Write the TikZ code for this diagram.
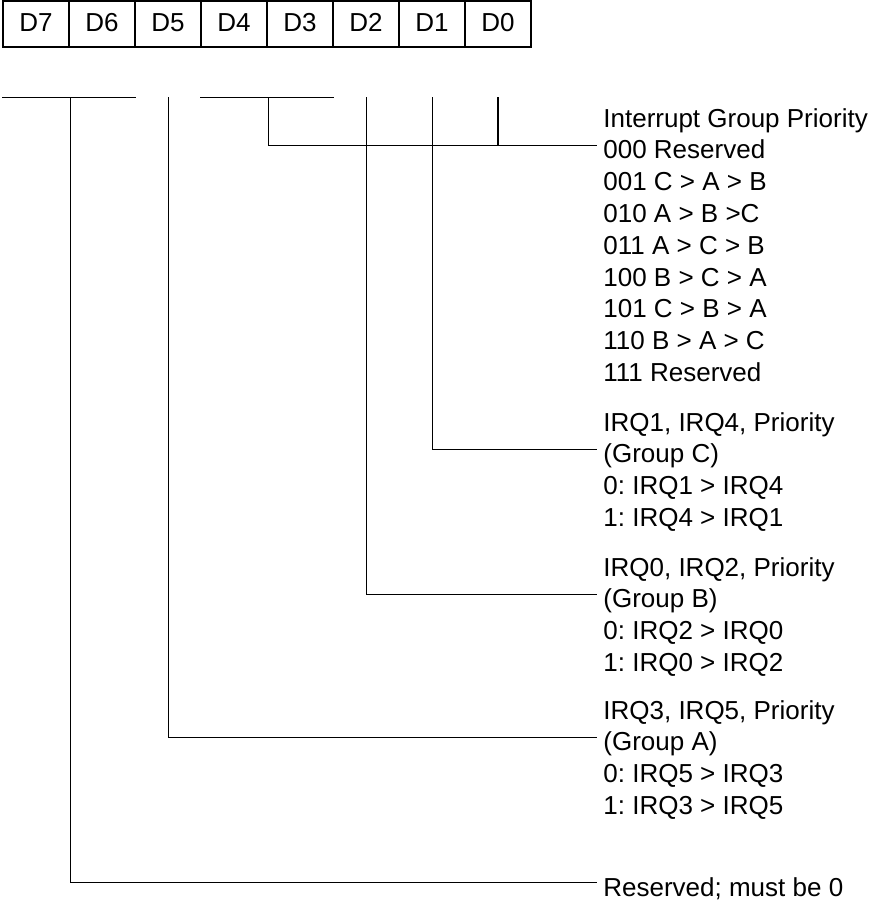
\documentclass[tikz,border=0pt]{standalone}
\usepackage{fontspec}
\setmainfont{Liberation Sans}
\usepackage{tikz}
\frenchspacing

\begin{document}
\begin{tikzpicture}[x=0.5pt,y=-0.5pt,
	every node/.style={font=\fontsize{13}{16}\selectfont},
	bitbox/.style={draw, line width=1pt, minimum width=33pt, minimum height=23pt, inner sep=0pt,
		text height=0.72em, text depth=0pt},
	row/.style={anchor=base west, inner xsep=3pt, inner ysep=0pt, text height=0.64em, text depth=0.2em},
	lead/.style={line width=0.5pt}]
	\useasboundingbox (0,0) rectangle (876,902);
	% register bits
	\foreach \i in {7,...,0}
		\node[bitbox] (D\i) at ({36+66*(7-\i)},24) {D\i};
	\coordinate (top) at (0,97);
	% field descriptions
	\node[row] (pri) at (597,127) {Interrupt Group Priority};
	\foreach \t [count=\k from 1] in {000 Reserved, 001 C > A > B, 010 A > B >C, 011 A > C > B,
			100 B > C > A, 101 C > B > A, 110 B > A > C, 111 Reserved}
		\node[row] (pr\k) at (597,{127+31.8*\k}) {\t};
	\node[row] (irqC) at (597,431) {IRQ1, IRQ4, Priority};
	\node[row] (grpC) at (597,462.8) {(Group C)};
	\node[row] (c0) at (597,494.6) {0: IRQ1 > IRQ4};
	\node[row] (c1) at (597,526.4) {1: IRQ4 > IRQ1};
	\node[row] (irqB) at (597,576) {IRQ0, IRQ2, Priority};
	\node[row] (grpB) at (597,607.8) {(Group B)};
	\node[row] (b0) at (597,639.6) {0: IRQ2 > IRQ0};
	\node[row] (b1) at (597,671.4) {1: IRQ0 > IRQ2};
	\node[row] (irqA) at (597,719) {IRQ3, IRQ5, Priority};
	\node[row] (grpA) at (597,750.8) {(Group A)};
	\node[row] (a0) at (597,782.6) {0: IRQ5 > IRQ3};
	\node[row] (a1) at (597,814.4) {1: IRQ3 > IRQ5};
	\node[row] (rsv) at (597,896) {Reserved; must be 0};
	% leaders
	\draw[lead] (D7.west |- top) -- (D6.east |- top);
	\draw[lead] (D4.west |- top) -- (D3.east |- top);
	\draw[lead] (D7.east |- top) |- (rsv.north west);
	\draw[lead] (D5 |- top) |- (grpA.north west);
	\draw[lead] (D4.east |- top) |- (pr1.north west);
	\draw[lead] (D2 |- top) |- (grpB.north west);
	\draw[lead] (D1 |- top) |- (grpC.north west);
	\draw[line width=1pt] (D0 |- top) -- (D0 |- pr1.north west);
\end{tikzpicture}
\end{document}
